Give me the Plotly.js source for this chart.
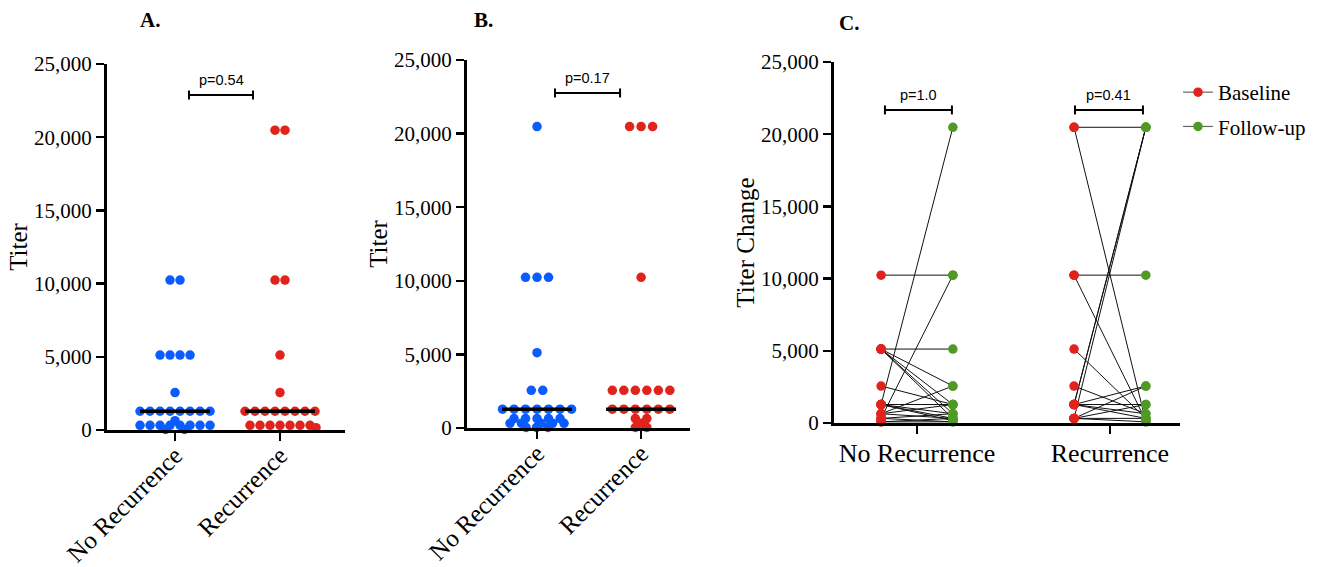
<!DOCTYPE html>
<html>
<head>
<meta charset="utf-8">
<script src="https://cdn.plot.ly/plotly-3.0.1.min.js"></script>
<style>html,body{margin:0;padding:0;background:#fff}#chart{width:1330px;height:567px}</style>
</head>
<body>
<div id="chart"></div>
<script>
// ---------- DATA ----------
const categories = ['No Recurrence', 'Recurrence'];
const yTickVals = [0, 5000, 10000, 15000, 20000, 25000];

// Panel A (Titer)
const aNoRecurrence = [10240, 10240, 5120, 5120, 5120, 5120, 2560,
  1280, 1280, 1280, 1280, 1280, 1280, 1280, 1280,
  640, 320, 320, 320, 320, 320, 320, 320, 320, 40, 40];
const aRecurrence = [20480, 20480, 10240, 10240, 5120, 2560,
  1280, 1280, 1280, 1280, 1280, 1280, 1280, 1280,
  320, 320, 320, 320, 320, 320, 320, 160];

// Panel B (Titer)
const bNoRecurrence = [20480, 10240, 10240, 10240, 5120, 2560, 2560,
  1280, 1280, 1280, 1280, 1280, 1280, 1280,
  640, 640, 640, 640, 640, 320, 320, 320, 320, 320, 40, 40, 40];
const bRecurrence = [20480, 20480, 20480, 10240,
  2560, 2560, 2560, 2560, 2560, 2560,
  1280, 1280, 1280, 1280, 1280, 1280,
  640, 640, 320, 40, 40];

// Panel C (Titer Change, paired baseline -> follow-up)
const cNoRecBaseline = [10240, 5120, 5120, 5120, 5120, 5120, 2560, 1280, 320, 640,
  1280, 1280, 1280, 640, 640, 320, 320, 80, 80, 1280];
const cNoRecFollowUp = [10240, 5120, 2560, 1280, 640, 320, 1280, 20480, 10240, 2560,
  1280, 640, 320, 320, 1280, 640, 80, 320, 80, 160];
const cRecBaseline = [20480, 20480, 10240, 10240, 5120, 2560, 1280, 1280, 320,
  1280, 320, 1280, 1280, 320, 320, 1280, 320];
const cRecFollowUp = [20480, 80, 10240, 160, 320, 640, 20480, 20480, 20480,
  2560, 2560, 1280, 640, 1280, 320, 320, 80];

const pLabels = ['p=0.54', 'p=0.17', 'p=1.0', 'p=0.41'];
const panelLabels = ['A.', 'B.', 'C.'];
const yTitles = ['Titer', 'Titer', 'Titer Change'];
const seriesNames = ['Baseline', 'Follow-up'];

// ---------- STYLE / LAYOUT ----------
const W = 1330, H = 567;
const BLUE = '#0a5cff', RED = '#e0231b', GREEN = '#4f9a25';
const SERIF = 'Liberation Serif';
const SANS = 'Liberation Sans';

const px = (a, b) => [a / W, b / W];
const py = (bottom, top) => [(H - bottom) / H, (H - top) / H];

const dom = {
  A: {x: px(107, 345), y: py(430, 64), xr: [-0.648, 1.619], d: 10},
  B: {x: px(467, 690), y: py(428, 60), xr: [-0.673, 1.47], d: 11.5},
  C: {x: px(834, 1180), y: py(423, 62), xr: [-0.43, 1.363]}
};
function ppu(d) {
  return {
    x: (d.x[1] - d.x[0]) * W / (d.xr[1] - d.xr[0]),
    y: (d.y[1] - d.y[0]) * H / 25000
  };
}

function median(arr) {
  const s = arr.slice().sort((a, b) => a - b);
  const n = s.length;
  return n % 2 ? s[(n - 1) / 2] : (s[n / 2 - 1] + s[n / 2]) / 2;
}

// simple beeswarm: rows centred, collisions nudged outward
function swarm(values, center, scale, d) {
  const distinct = [...new Set(values)].sort((a, b) => b - a);
  const placed = [];
  const xs = [], ys = [];
  const minDist = 6.0;
  distinct.forEach(v => {
    const n = values.filter(u => u === v).length;
    const yp = v * scale.y;
    for (let i = 0; i < n; i++) {
      const target = (i - (n - 1) / 2) * d;
      let chosen = target;
      for (let k = 0; k < 400; k++) {
        const sg = Math.sign(target || 1);
        const cands = k === 0 ? [target] : [target + sg * k * 0.5, target - sg * k * 0.5];
        let ok = null;
        for (const t of cands) {
          if (placed.every(p => Math.hypot(p[0] - t, p[1] - yp) >= minDist)) { ok = t; break; }
        }
        if (ok !== null) { chosen = ok; break; }
      }
      placed.push([chosen, yp]);
      xs.push(center + chosen / scale.x);
      ys.push(v);
    }
  });
  return {xs, ys};
}

const traces = [];
const shapes = [];
const annotations = [];

function dotPanel(key, ax, groups, colors) {
  const d = dom[key], sc = ppu(d);
  groups.forEach((vals, gi) => {
    const s = swarm(vals, gi, sc, d.d);
    traces.push({x: s.xs, y: s.ys, mode: 'markers', type: 'scatter',
      marker: {color: colors[gi], size: 9.5, line: {width: 0}},
      xaxis: 'x' + ax, yaxis: 'y' + ax, showlegend: false, cliponaxis: false,
      name: categories[gi]});
  });
  groups.forEach((vals, gi) => {
    const m = median(vals);
    const hw = 35 / sc.x;
    traces.push({x: [gi - hw, gi + hw], y: [m, m], mode: 'lines', line: {color: 'black', width: 3.5},
      xaxis: 'x' + ax, yaxis: 'y' + ax, showlegend: false, hoverinfo: 'skip', cliponaxis: false});
  });
}

dotPanel('A', '', [aNoRecurrence, aRecurrence], [BLUE, RED]);
dotPanel('B', '2', [bNoRecurrence, bRecurrence], [BLUE, RED]);

// Panel C
const cOff = 0.186;
[[cNoRecBaseline, cNoRecFollowUp], [cRecBaseline, cRecFollowUp]].forEach((pair, gi) => {
  const lx = [], ly = [];
  pair[0].forEach((b, i) => {
    lx.push(gi - cOff, gi + cOff, null);
    ly.push(b, pair[1][i], null);
  });
  traces.push({x: lx, y: ly, mode: 'lines', line: {color: '#111', width: 1},
    xaxis: 'x3', yaxis: 'y3', showlegend: false, hoverinfo: 'skip', cliponaxis: false});
});
[[cNoRecBaseline, cRecBaseline], [cNoRecFollowUp, cRecFollowUp]].forEach((ser, si) => {
  const xs = [], ys = [];
  ser.forEach((vals, gi) => vals.forEach(v => { xs.push(gi + (si === 0 ? -cOff : cOff)); ys.push(v); }));
  traces.push({x: xs, y: ys, mode: 'markers', marker: {color: si === 0 ? RED : GREEN, size: 9.5},
    xaxis: 'x3', yaxis: 'y3', showlegend: false, cliponaxis: false, name: seriesNames[si]});
});
// legend proxies
seriesNames.forEach((nm, si) => {
  traces.push({x: [null], y: [null], mode: 'lines+markers', name: nm, legendgroup: 'g' + si,
    marker: {color: si === 0 ? RED : GREEN, size: 9.5}, line: {color: '#666', width: 1.2},
    xaxis: 'x3', yaxis: 'y3', showlegend: true});
});

// brackets
function bracket(key, ax, x0, x1, yv, label) {
  const sc = ppu(dom[key]);
  const cap = 4.5 / sc.y;
  const ref = {xref: 'x' + ax, yref: 'y' + ax};
  const line = {color: 'black', width: 2};
  shapes.push(Object.assign({type: 'line', x0, x1, y0: yv, y1: yv, line}, ref));
  shapes.push(Object.assign({type: 'line', x0, x1: x0, y0: yv - cap, y1: yv + cap, line}, ref));
  shapes.push(Object.assign({type: 'line', x0: x1, x1, y0: yv - cap, y1: yv + cap, line}, ref));
  annotations.push(Object.assign({x: (x0 + x1) / 2, y: yv + 5 / sc.y, text: label, showarrow: false,
    yanchor: 'bottom', font: {family: SANS, size: 14.5, color: 'black'}}, ref));
}
bracket('A', '', 0.133, 0.743, 22880, pLabels[0]);
bracket('B', '2', 0.173, 0.798, 22760, pLabels[1]);
bracket('C', '3', -0.166, 0.181, 21680, pLabels[2]);
bracket('C', '3', 1 - 0.181, 1 + 0.171, 21680, pLabels[3]);

// panel letters
[[150, 20], [483, 20], [849, 23]].forEach((p, i) => {
  annotations.push({xref: 'paper', yref: 'paper', x: p[0] / W, y: 1 - p[1] / H, text: '<b>' + panelLabels[i] + '</b>',
    showarrow: false, font: {family: SERIF, size: 21, color: 'black'}, xanchor: 'center', yanchor: 'middle'});
});

function axBase() {
  return {showline: true, linecolor: 'black', linewidth: 3, ticks: 'outside', ticklen: 8, tickwidth: 2.5,
    tickcolor: 'black', showgrid: false, zeroline: false, fixedrange: true};
}
function yAx(key, title) {
  return Object.assign(axBase(), {domain: dom[key].y, range: [0, 25000], tickvals: yTickVals, tickformat: ',d',
    tickfont: {family: SERIF, size: 21, color: 'black'},
    title: {text: title, font: {family: SERIF, size: 25, color: 'black'}, standoff: 0},
    anchor: key === 'A' ? 'x' : key === 'B' ? 'x2' : 'x3'});
}
function xAx(key, angle, size, standoff) {
  return Object.assign(axBase(), {domain: dom[key].x, range: dom[key].xr, tickvals: [0, 1], ticktext: categories,
    tickangle: angle, tickfont: {family: SERIF, size: size, color: 'black'}, ticklabelstandoff: standoff,
    anchor: key === 'A' ? 'y' : key === 'B' ? 'y2' : 'y3'});
}

const layout = {
  width: W, height: H, margin: {l: 0, r: 0, t: 0, b: 0},
  paper_bgcolor: 'white', plot_bgcolor: 'white',
  font: {family: SERIF, color: 'black'},
  separators: '.,',
  xaxis: xAx('A', -45, 25, -10), yaxis: yAx('A', yTitles[0]),
  xaxis2: xAx('B', -45, 25, -10), yaxis2: yAx('B', yTitles[1]),
  xaxis3: xAx('C', 0, 26, -3), yaxis3: yAx('C', yTitles[2]),
  showlegend: true,
  legend: {x: 1178 / W, y: 1 - 72 / H, xanchor: 'left', yanchor: 'top', tracegroupgap: 4,
    font: {family: SERIF, size: 21, color: 'black'}, bgcolor: 'rgba(0,0,0,0)', itemwidth: 30},
  shapes, annotations
};

Plotly.newPlot('chart', traces, layout, {displayModeBar: false, staticPlot: true});
</script>
</body>
</html>
